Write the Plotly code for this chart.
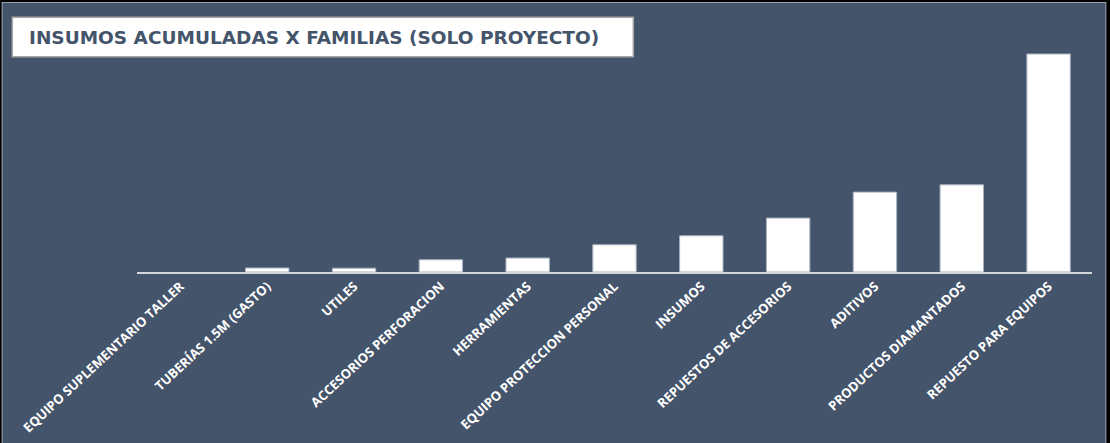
import plotly.graph_objects as go

# Accumulated supplies by family (project only)
familias = [
    "EQUIPO SUPLEMENTARIO TALLER",
    "TUBERÍAS 1.5M (GASTO)",
    "UTILES",
    "ACCESORIOS PERFORACION",
    "HERRAMIENTAS",
    "EQUIPO PROTECCION PERSONAL",
    "INSUMOS",
    "REPUESTOS DE ACCESORIOS",
    "ADITIVOS",
    "PRODUCTOS DIAMANTADOS",
    "REPUESTO PARA EQUIPOS",
]
acumulado = [0, 4.0, 3.8, 12.3, 14.0, 27.3, 36.3, 54.0, 80.0, 87.3, 218.3]
titulo = "INSUMOS ACUMULADAS X FAMILIAS (SOLO PROYECTO)"

W, H = 1110, 443
L, R, T, B = 137.3, 1091.7, 40.0, 272.3
BG = "#44546A"


def px(x):
    return (x - L) / (R - L)


def py(y):
    return (B - y) / (B - T)


fig = go.Figure(
    go.Bar(
        x=familias,
        y=acumulado,
        marker=dict(
            color="#FFFFFF",
            line=dict(color="#A7B0BC", width=[1 if v > 0 else 0 for v in acumulado]),
        ),
        hoverinfo="x+y",
    )
)

shapes = [
    # outer frame
    dict(type="rect", xref="paper", yref="paper", x0=px(0), x1=px(W), y0=py(H + 5), y1=py(0),
         fillcolor="#000000", line=dict(width=0), layer="below"),
    dict(type="rect", xref="paper", yref="paper", x0=px(2), x1=px(1106), y0=py(H + 5), y1=py(2),
         fillcolor="#9AA3AE", line=dict(width=0), layer="below"),
    dict(type="rect", xref="paper", yref="paper", x0=px(3), x1=px(1105), y0=py(H + 5), y1=py(3),
         fillcolor=BG, line=dict(width=0), layer="below"),
    # title box
    dict(type="rect", xref="paper", yref="paper", x0=px(12.7), x1=px(633.3), y0=py(56.7), y1=py(17.3),
         fillcolor="#FFFFFF", line=dict(color="#A6A6A6", width=1.5), layer="above"),
]

fig.update_layout(
    width=W,
    height=H,
    margin=dict(l=L, r=W - R, t=T, b=H - B, pad=0, autoexpand=False),
    paper_bgcolor=BG,
    plot_bgcolor="rgba(0,0,0,0)",
    bargap=0.5,
    showlegend=False,
    shapes=shapes,
    annotations=[
        dict(text=titulo, xref="paper", yref="paper", x=px(27), y=py(37.5),
             xanchor="left", yanchor="middle", showarrow=False,
             font=dict(family="DejaVu Sans", size=18.5, color="#44546A", weight="bold")),
    ],
    xaxis=dict(
        showgrid=False,
        zeroline=False,
        showline=True,
        linecolor="#D3D7DD",
        linewidth=1.5,
        ticks="",
        tickangle=-43,
        automargin=False,
        tickfont=dict(family="Open Sans", size=13, color="#FFFFFF", weight="bold"),
    ),
    yaxis=dict(
        range=[0, B - T],
        showgrid=False,
        zeroline=False,
        showticklabels=False,
        showline=False,
        automargin=False,
        fixedrange=True,
    ),
)

fig.write_html("out.html")
